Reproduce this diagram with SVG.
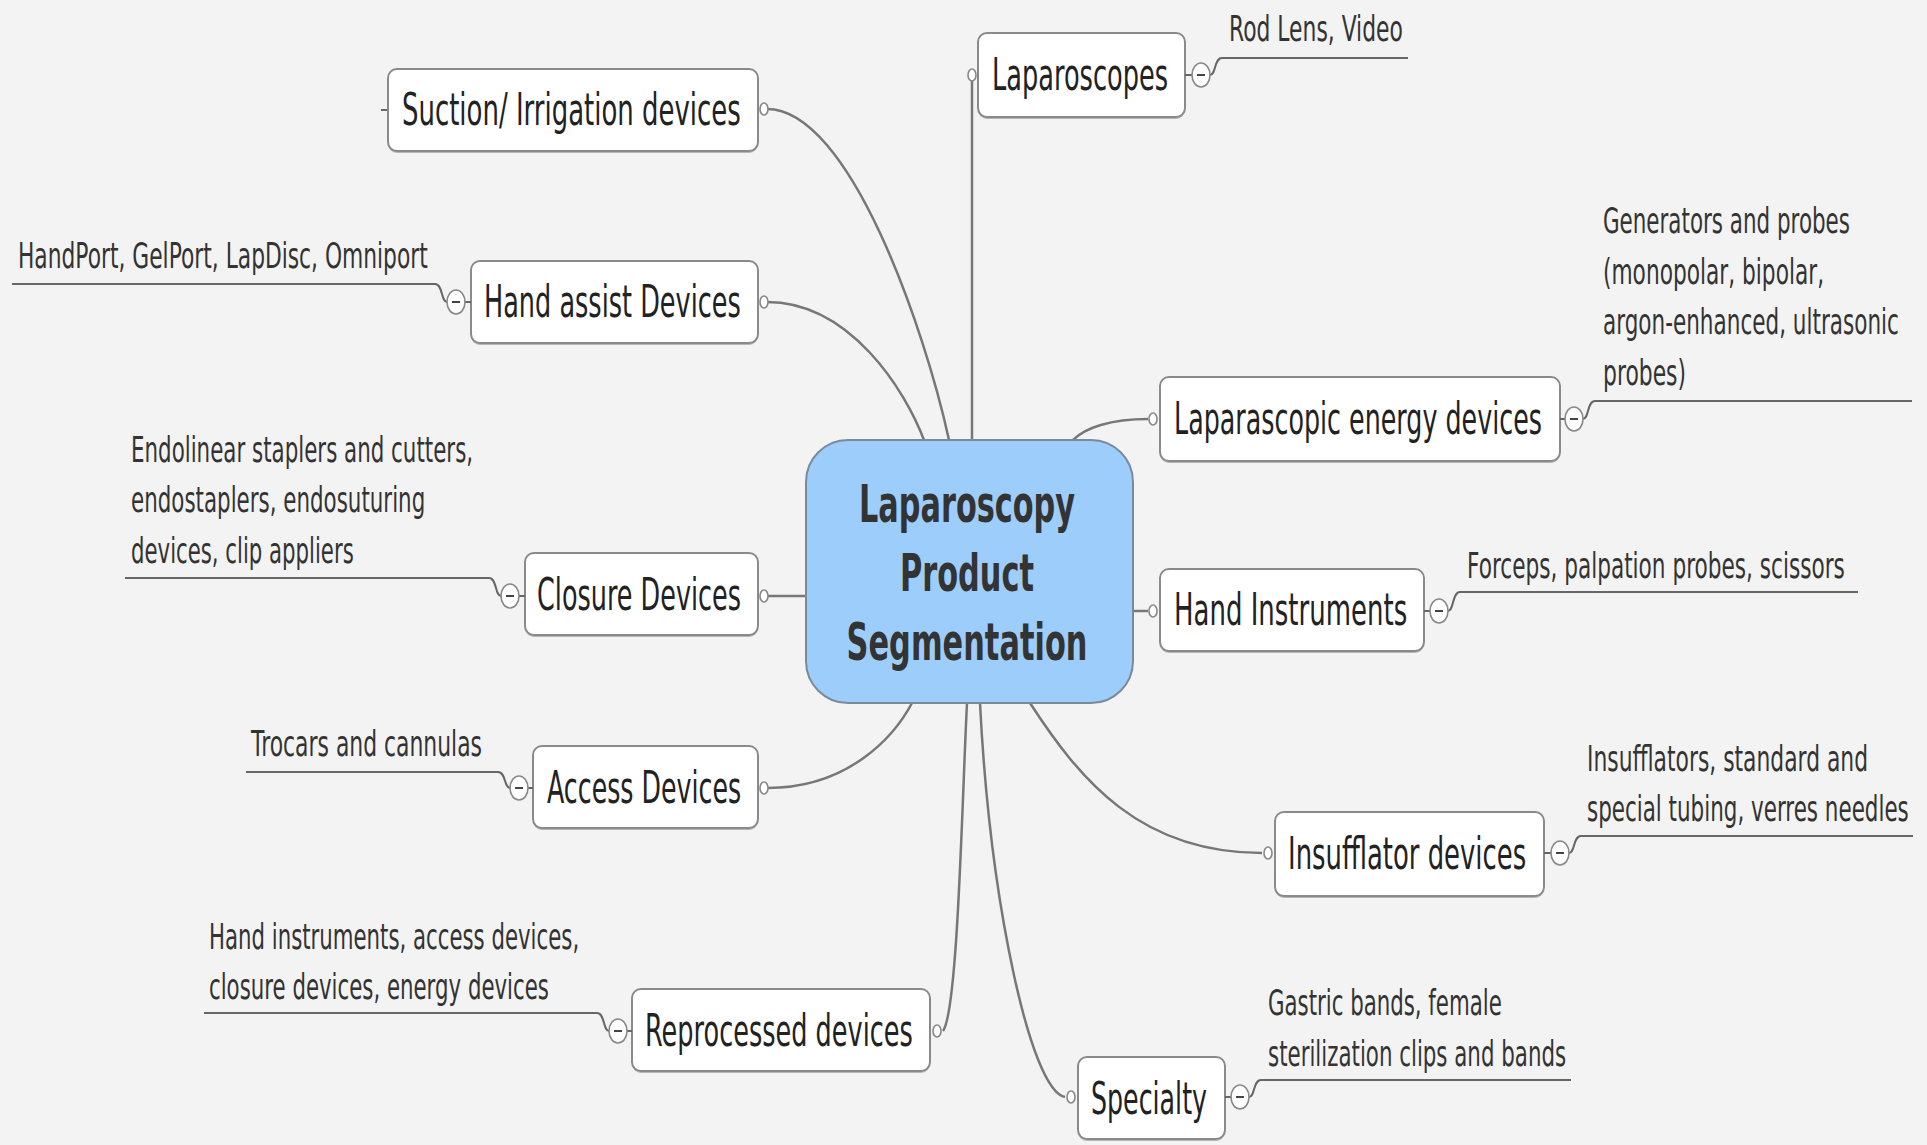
<svg xmlns="http://www.w3.org/2000/svg" width="1927" height="1145" viewBox="0 0 1927 1145">
<style>
.bg{fill:#f3f3f3}
.box{fill:#ffffff;stroke:#8a8a8a;stroke-width:2}
.shadow{fill:#b5b5b5}
.center{fill:#9dcdfb;stroke:#7a8a99;stroke-width:2}
.conn{fill:none;stroke:#777;stroke-width:2.5}
.leafline{fill:none;stroke:#666;stroke-width:2}
.dot{fill:#fff;stroke:#888;stroke-width:1.6}
.col{fill:#fff;stroke:#888;stroke-width:1.6}
.minus{stroke:#444;stroke-width:2}
.nt{font-family:"DejaVu Sans","Liberation Sans",sans-serif;font-size:44px;fill:#222}
.lt{font-family:"DejaVu Sans","Liberation Sans",sans-serif;font-size:36px;fill:#333}
.ct{font-family:"DejaVu Sans","Liberation Sans",sans-serif;font-size:52px;font-weight:bold;fill:#333;text-anchor:middle}
</style>
<rect class="bg" x="0" y="0" width="1927" height="1145"/>

<g id="connectors">
  <path class="conn" d="M767,109 C850,109 925,330 949,440"/>
  <path class="conn" d="M767,302 C850,302 905,390 924,440"/>
  <path class="conn" d="M972,80 L972,440"/>
  <path class="conn" d="M767,596 L806,596"/>
  <path class="conn" d="M767,788 C850,788 895,735 912,703"/>
  <path class="conn" d="M943,1031 C958,1010 962,800 967,703"/>
  <path class="conn" d="M1065,1097 C1030,1090 990,900 980,703"/>
  <path class="conn" d="M1262,853 C1140,853 1080,780 1030,703"/>
  <path class="conn" d="M1133,611 L1148,611"/>
  <path class="conn" d="M1148,419 C1110,419 1085,428 1073,440"/>
  <path class="leafline" d="M1210,75 C1216,75 1214,58 1222,58 L1408,58"/>
  <path class="leafline" d="M1583,419 C1589,419 1587,401 1595,401 L1912,401"/>
  <path class="leafline" d="M1448,611 C1454,611 1452,592 1460,592 L1858,592"/>
  <path class="leafline" d="M1569,853 C1575,853 1573,836 1581,836 L1913,836"/>
  <path class="leafline" d="M1249,1097 C1255,1097 1253,1080 1261,1080 L1571,1080"/>
  <path class="leafline" d="M447,302 C441,302 443,284 435,284 L12,284"/>
  <path class="leafline" d="M501,596 C495,596 497,578 489,578 L125,578"/>
  <path class="leafline" d="M510,788 C504,788 506,772 498,772 L246,772"/>
  <path class="leafline" d="M609,1031 C603,1031 605,1013 597,1013 L204,1013"/>
  <path class="leafline" d="M381,110 L388,110"/>
</g>

<g id="center">
  <rect class="center" x="806" y="440" width="327" height="263" rx="42"/>
  <text class="ct" transform="translate(967,522) scale(0.55,1)" textLength="393" lengthAdjust="spacingAndGlyphs">Laparoscopy</text>
  <text class="ct" transform="translate(967,591) scale(0.55,1)" textLength="244" lengthAdjust="spacingAndGlyphs">Product</text>
  <text class="ct" transform="translate(967,660) scale(0.55,1)" textLength="438" lengthAdjust="spacingAndGlyphs">Segmentation</text>
</g>

<g id="suction">
  <rect class="shadow" x="388" y="71" width="370" height="82" rx="9"/>
  <rect class="box" x="388" y="69" width="370" height="82" rx="9"/>
  <text class="nt" transform="translate(402,125) scale(0.55,1)" textLength="616" lengthAdjust="spacingAndGlyphs">Suction/ Irrigation devices</text>
  <ellipse class="dot" cx="764" cy="109" rx="4" ry="6"/>
</g>

<g id="handassist">
  <rect class="shadow" x="471" y="263" width="287" height="82" rx="9"/>
  <rect class="box" x="471" y="261" width="287" height="82" rx="9"/>
  <text class="nt" transform="translate(484,317) scale(0.55,1)" textLength="467" lengthAdjust="spacingAndGlyphs">Hand assist Devices</text>
  <ellipse class="dot" cx="764" cy="302" rx="4" ry="6"/>
  <line class="leafline" x1="465" y1="302" x2="471" y2="302"/>
  <ellipse class="col" cx="456" cy="302" rx="9" ry="12"/>
  <line class="minus" x1="452" y1="302" x2="460" y2="302"/>
  <text class="lt" transform="translate(18,268) scale(0.55,1)" textLength="745" lengthAdjust="spacingAndGlyphs">HandPort, GelPort, LapDisc, Omniport</text>
</g>

<g id="closure">
  <rect class="shadow" x="525" y="555" width="233" height="82" rx="9"/>
  <rect class="box" x="525" y="553" width="233" height="82" rx="9"/>
  <text class="nt" transform="translate(537,610) scale(0.55,1)" textLength="371" lengthAdjust="spacingAndGlyphs">Closure Devices</text>
  <ellipse class="dot" cx="764" cy="596" rx="4" ry="6"/>
  <line class="leafline" x1="519" y1="596" x2="525" y2="596"/>
  <ellipse class="col" cx="510" cy="596" rx="9" ry="12"/>
  <line class="minus" x1="506" y1="596" x2="514" y2="596"/>
  <text class="lt" transform="translate(131,462) scale(0.55,1)" textLength="622" lengthAdjust="spacingAndGlyphs">Endolinear staplers and cutters,</text>
  <text class="lt" transform="translate(131,512) scale(0.55,1)" textLength="535" lengthAdjust="spacingAndGlyphs">endostaplers, endosuturing</text>
  <text class="lt" transform="translate(131,563) scale(0.55,1)" textLength="405" lengthAdjust="spacingAndGlyphs">devices, clip appliers</text>
</g>

<g id="access">
  <rect class="shadow" x="533" y="748" width="225" height="82" rx="9"/>
  <rect class="box" x="533" y="746" width="225" height="82" rx="9"/>
  <text class="nt" transform="translate(547,803) scale(0.55,1)" textLength="353" lengthAdjust="spacingAndGlyphs">Access Devices</text>
  <ellipse class="dot" cx="764" cy="788" rx="4" ry="6"/>
  <line class="leafline" x1="528" y1="788" x2="533" y2="788"/>
  <ellipse class="col" cx="519" cy="788" rx="9" ry="12"/>
  <line class="minus" x1="515" y1="788" x2="523" y2="788"/>
  <text class="lt" transform="translate(251,756) scale(0.55,1)" textLength="420" lengthAdjust="spacingAndGlyphs">Trocars and cannulas</text>
</g>

<g id="reprocessed">
  <rect class="shadow" x="632" y="991" width="298" height="82" rx="9"/>
  <rect class="box" x="632" y="989" width="298" height="82" rx="9"/>
  <text class="nt" transform="translate(645,1046) scale(0.55,1)" textLength="487" lengthAdjust="spacingAndGlyphs">Reprocessed devices</text>
  <ellipse class="dot" cx="937" cy="1031" rx="4" ry="6"/>
  <line class="leafline" x1="627" y1="1031" x2="632" y2="1031"/>
  <ellipse class="col" cx="618" cy="1031" rx="9" ry="12"/>
  <line class="minus" x1="614" y1="1031" x2="622" y2="1031"/>
  <text class="lt" transform="translate(209,949) scale(0.55,1)" textLength="673" lengthAdjust="spacingAndGlyphs">Hand instruments, access devices,</text>
  <text class="lt" transform="translate(209,999) scale(0.55,1)" textLength="618" lengthAdjust="spacingAndGlyphs">closure devices, energy devices</text>
</g>

<g id="laparoscopes">
  <rect class="shadow" x="978" y="35" width="207" height="84" rx="9"/>
  <rect class="box" x="978" y="33" width="207" height="84" rx="9"/>
  <text class="nt" transform="translate(992,90) scale(0.55,1)" textLength="320" lengthAdjust="spacingAndGlyphs">Laparoscopes</text>
  <ellipse class="dot" cx="972" cy="75" rx="4" ry="6"/>
  <line class="leafline" x1="1185" y1="75" x2="1192" y2="75"/>
  <ellipse class="col" cx="1201" cy="75" rx="9" ry="12"/>
  <line class="minus" x1="1197" y1="75" x2="1205" y2="75"/>
  <text class="lt" transform="translate(1229,41) scale(0.55,1)" textLength="316" lengthAdjust="spacingAndGlyphs">Rod Lens, Video</text>
</g>

<g id="energy">
  <rect class="shadow" x="1160" y="379" width="400" height="84" rx="9"/>
  <rect class="box" x="1160" y="377" width="400" height="84" rx="9"/>
  <text class="nt" transform="translate(1174,434) scale(0.55,1)" textLength="669" lengthAdjust="spacingAndGlyphs">Laparascopic energy devices</text>
  <ellipse class="dot" cx="1153" cy="419" rx="4" ry="6"/>
  <line class="leafline" x1="1560" y1="419" x2="1565" y2="419"/>
  <ellipse class="col" cx="1574" cy="419" rx="9" ry="12"/>
  <line class="minus" x1="1570" y1="419" x2="1578" y2="419"/>
  <text class="lt" transform="translate(1603,233) scale(0.55,1)" textLength="449" lengthAdjust="spacingAndGlyphs">Generators and probes</text>
  <text class="lt" transform="translate(1603,284) scale(0.55,1)" textLength="402" lengthAdjust="spacingAndGlyphs">(monopolar, bipolar,</text>
  <text class="lt" transform="translate(1603,334) scale(0.55,1)" textLength="538" lengthAdjust="spacingAndGlyphs">argon-enhanced, ultrasonic</text>
  <text class="lt" transform="translate(1603,385) scale(0.55,1)" textLength="151" lengthAdjust="spacingAndGlyphs">probes)</text>
</g>

<g id="handinstruments">
  <rect class="shadow" x="1160" y="571" width="264" height="82" rx="9"/>
  <rect class="box" x="1160" y="569" width="264" height="82" rx="9"/>
  <text class="nt" transform="translate(1174,625) scale(0.55,1)" textLength="424" lengthAdjust="spacingAndGlyphs">Hand Instruments</text>
  <ellipse class="dot" cx="1153" cy="611" rx="4" ry="6"/>
  <line class="leafline" x1="1424" y1="611" x2="1430" y2="611"/>
  <ellipse class="col" cx="1439" cy="611" rx="9" ry="12"/>
  <line class="minus" x1="1435" y1="611" x2="1443" y2="611"/>
  <text class="lt" transform="translate(1467,578) scale(0.55,1)" textLength="687" lengthAdjust="spacingAndGlyphs">Forceps, palpation probes, scissors</text>
</g>

<g id="insufflator">
  <rect class="shadow" x="1275" y="814" width="269" height="84" rx="9"/>
  <rect class="box" x="1275" y="812" width="269" height="84" rx="9"/>
  <text class="nt" transform="translate(1288,869) scale(0.55,1)" textLength="433" lengthAdjust="spacingAndGlyphs">Insufflator devices</text>
  <ellipse class="dot" cx="1268" cy="853" rx="4" ry="6"/>
  <line class="leafline" x1="1544" y1="853" x2="1551" y2="853"/>
  <ellipse class="col" cx="1560" cy="853" rx="9" ry="12"/>
  <line class="minus" x1="1556" y1="853" x2="1564" y2="853"/>
  <text class="lt" transform="translate(1587,771) scale(0.55,1)" textLength="511" lengthAdjust="spacingAndGlyphs">Insufflators, standard and</text>
  <text class="lt" transform="translate(1587,821) scale(0.55,1)" textLength="585" lengthAdjust="spacingAndGlyphs">special tubing, verres needles</text>
</g>

<g id="specialty">
  <rect class="shadow" x="1078" y="1059" width="147" height="82" rx="9"/>
  <rect class="box" x="1078" y="1057" width="147" height="82" rx="9"/>
  <text class="nt" transform="translate(1091,1114) scale(0.55,1)" textLength="211" lengthAdjust="spacingAndGlyphs">Specialty</text>
  <ellipse class="dot" cx="1071" cy="1097" rx="4" ry="6"/>
  <line class="leafline" x1="1225" y1="1097" x2="1231" y2="1097"/>
  <ellipse class="col" cx="1240" cy="1097" rx="9" ry="12"/>
  <line class="minus" x1="1236" y1="1097" x2="1244" y2="1097"/>
  <text class="lt" transform="translate(1268,1015) scale(0.55,1)" textLength="425" lengthAdjust="spacingAndGlyphs">Gastric bands, female</text>
  <text class="lt" transform="translate(1268,1066) scale(0.55,1)" textLength="542" lengthAdjust="spacingAndGlyphs">sterilization clips and bands</text>
</g>
</svg>
